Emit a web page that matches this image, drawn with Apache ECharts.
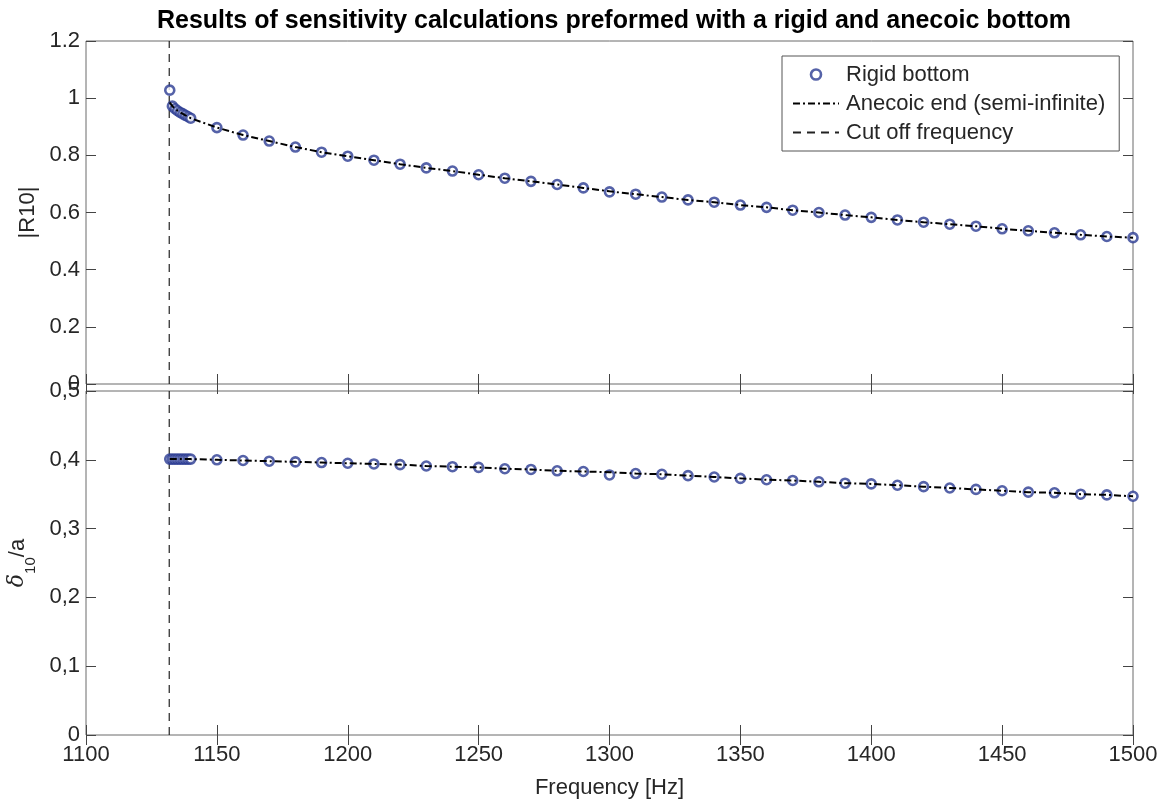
<!DOCTYPE html>
<html>
<head>
<meta charset="utf-8">
<script src="https://cdn.jsdelivr.net/npm/echarts@6/dist/echarts.min.js"></script>
<style>
html,body{margin:0;padding:0;background:#fff;}
#chart{width:1168px;height:806px;}
</style>
</head>
<body>
<div id="chart"></div>
<script>
// ---- data ----
const freq = [1132,1133,1134,1135,1136,1137,1138,1139,1140,
  1150,1160,1170,1180,1190,1200,1210,1220,1230,1240,1250,1260,1270,1280,1290,1300,
  1310,1320,1330,1340,1350,1360,1370,1380,1390,1400,1410,1420,1430,1440,1450,1460,
  1470,1480,1490,1500];
const r10Rigid = [1.028,0.972,0.963,0.956,0.950,0.945,0.940,0.935,0.930,
  0.897,0.871,0.850,0.829,0.811,0.797,0.783,0.769,0.756,0.745,0.732,0.720,0.709,0.698,0.686,0.672,
  0.664,0.654,0.644,0.636,0.626,0.618,0.608,0.600,0.591,0.583,0.574,0.566,0.559,0.552,0.543,0.536,
  0.529,0.522,0.516,0.512];
const r10Anecoic = [0.985,0.972,0.963,0.956,0.950,0.945,0.940,0.935,0.930,
  0.897,0.871,0.850,0.829,0.811,0.797,0.783,0.769,0.756,0.745,0.732,0.720,0.709,0.698,0.686,0.674,
  0.664,0.654,0.644,0.636,0.626,0.618,0.608,0.600,0.591,0.583,0.574,0.566,0.559,0.552,0.543,0.536,
  0.529,0.522,0.516,0.512];
const deltaRigid = [0.401,0.401,0.401,0.401,0.401,0.401,0.401,0.401,0.401,
  0.400,0.399,0.398,0.397,0.396,0.395,0.394,0.393,0.391,0.390,0.389,0.387,0.386,0.384,0.383,0.378,
  0.380,0.379,0.377,0.375,0.373,0.371,0.370,0.368,0.366,0.365,0.363,0.361,0.359,0.357,0.355,0.353,
  0.352,0.350,0.349,0.347];
const deltaAnecoic = [0.401,0.401,0.401,0.401,0.401,0.401,0.401,0.401,0.401,
  0.400,0.399,0.398,0.397,0.396,0.395,0.394,0.393,0.391,0.390,0.389,0.387,0.386,0.384,0.383,0.382,
  0.380,0.379,0.377,0.375,0.373,0.371,0.370,0.368,0.366,0.365,0.363,0.361,0.359,0.357,0.355,0.353,
  0.352,0.350,0.349,0.347];
const cutoffFreq = 1131.8;
const xRange = [1100, 1500];
const r10Range = [0, 1.2];
const deltaRange = [0, 0.5];

// ---- chart ----
const chart = echarts.init(document.getElementById('chart'), null, {renderer: 'canvas'});
const FONT = 'Liberation Sans, Arial, Helvetica, sans-serif';
const TXT = '#262626';
const FRAME = '#6a6a6a';
const BLUE = '#2a3b92';
const FS = 22;

function pairs(xs, ys){ return xs.map((x,i)=>[x, ys[i]]); }
function fmtDot(v){ return String(Number(v.toFixed(2))); }
function fmtComma(v){ return fmtDot(v).replace('.', ','); }

const tick = {show:true, inside:true, length:10, lineStyle:{color:'#444', width:1}};
function xAx(grid, pos, labels){
  return {type:'value', gridIndex:grid, position:pos, min:xRange[0], max:xRange[1], interval:50,
    axisLine:{show:false}, axisTick:tick, splitLine:{show:false},
    axisLabel:{show:labels, fontFamily:FONT, fontSize:FS, color:TXT, margin:9, formatter:v=>String(v)},
    name: labels ? 'Frequency [Hz]' : '', nameLocation:'middle', nameGap:42,
    nameTextStyle:{fontFamily:FONT, fontSize:FS, color:TXT}};
}
function yAx(grid, pos, range, interval, labels, fmt, name, nameStyle){
  return {type:'value', gridIndex:grid, position:pos, min:range[0], max:range[1], interval:interval,
    axisLine:{show:false}, axisTick:tick, splitLine:{show:false},
    axisLabel:{show:labels, fontFamily:FONT, fontSize:FS, color:TXT, margin:6, formatter:fmt},
    name: name || '', nameLocation:'middle', nameRotate:90, nameGap:46,
    nameTextStyle: nameStyle || {}};
}
const markerStyle = {color:'#ffffff', borderColor:BLUE, borderWidth:2.6};

const option = {
  animation:false,
  backgroundColor:'#ffffff',
  title:{text:'Results of sensitivity calculations preformed with a rigid and anecoic bottom',
    left:609, textAlign:'center', top:4,
    textStyle:{fontFamily:FONT, fontSize:25, fontWeight:'bold', color:'#000'}},
  legend:{
    orient:'vertical', left:782, top:56,
    padding:[4,14,4,10], itemGap:0, itemWidth:46, itemHeight:10,
    backgroundColor:'#fff', borderColor:'#555', borderWidth:1, borderRadius:0,
    textStyle:{fontFamily:FONT, fontSize:FS, color:TXT, lineHeight:29, padding:[0,0,0,2]},
    data:[
      {name:'Rigid bottom', icon:'circle', itemStyle:{color:'#ffffff', borderColor:BLUE, borderWidth:2.6}},
      {name:'Anecoic end (semi-infinite)', itemStyle:{opacity:0, color:'rgba(0,0,0,0)', borderColor:'rgba(0,0,0,0)'}},
      {name:'Cut off frequency', itemStyle:{opacity:0, color:'rgba(0,0,0,0)', borderColor:'rgba(0,0,0,0)'}}
    ]
  },
  grid:[
    {left:86, right:35, top:41, height:343, show:true, borderColor:FRAME, borderWidth:1, backgroundColor:'#fff', outerBoundsMode:'none', containLabel:false},
    {left:86, right:35, top:391, height:344, show:true, borderColor:FRAME, borderWidth:1, backgroundColor:'#fff', outerBoundsMode:'none', containLabel:false}
  ],
  xAxis:[
    xAx(0,'bottom',false), xAx(0,'top',false),
    xAx(1,'bottom',true), xAx(1,'top',false)
  ],
  yAxis:[
    yAx(0,'left',r10Range,0.2,true,fmtDot,'|R10|',{fontFamily:FONT, fontSize:FS, color:TXT}),
    yAx(0,'right',r10Range,0.2,false,fmtDot),
    yAx(1,'left',deltaRange,0.1,true,fmtComma,'{d|δ}{s|10}{n|/a}',{
      fontFamily:FONT, fontSize:FS, color:TXT,
      rich:{
        d:{fontFamily:'DejaVu Serif, serif', fontStyle:'italic', fontSize:FS, color:TXT, lineHeight:24, verticalAlign:'top'},
        s:{fontFamily:FONT, fontSize:15, color:TXT, lineHeight:32, verticalAlign:'bottom'},
        n:{fontFamily:FONT, fontSize:FS, color:TXT, lineHeight:24, verticalAlign:'top'}
      }}),
    yAx(1,'right',deltaRange,0.1,false,fmtComma)
  ],
  series:[
    {name:'Rigid bottom', type:'scatter', xAxisIndex:0, yAxisIndex:0, symbol:'circle', symbolSize:9,
      itemStyle:markerStyle, data:pairs(freq, r10Rigid), z:3},
    {name:'Anecoic end (semi-infinite)', type:'line', xAxisIndex:0, yAxisIndex:0, showSymbol:false, symbol:'none',
      lineStyle:{color:'#000', width:2, type:[7,3,2,3]}, itemStyle:{color:'#000'}, data:pairs(freq, r10Anecoic), z:4},
    {name:'Cut off frequency', type:'line', xAxisIndex:0, yAxisIndex:0, showSymbol:false, symbol:'none',
      lineStyle:{color:'#222', width:1.2, type:[8,6]}, itemStyle:{color:'#222'},
      data:[[cutoffFreq, r10Range[0]],[cutoffFreq, r10Range[1]]], z:2},
    {name:'Rigid bottom', type:'scatter', xAxisIndex:2, yAxisIndex:2, symbol:'circle', symbolSize:9,
      itemStyle:markerStyle, data:pairs(freq, deltaRigid), z:3},
    {name:'Anecoic end (semi-infinite)', type:'line', xAxisIndex:2, yAxisIndex:2, showSymbol:false, symbol:'none',
      lineStyle:{color:'#000', width:2, type:[7,3,2,3]}, itemStyle:{color:'#000'}, data:pairs(freq, deltaAnecoic), z:4},
    {name:'Cut off frequency', type:'line', xAxisIndex:2, yAxisIndex:2, showSymbol:false, symbol:'none',
      lineStyle:{color:'#222', width:1.2, type:[8,6]}, itemStyle:{color:'#222'},
      data:[[cutoffFreq, deltaRange[0]],[cutoffFreq, deltaRange[1]]], z:2}
  ]
};
chart.setOption(option);
</script>
</body>
</html>
